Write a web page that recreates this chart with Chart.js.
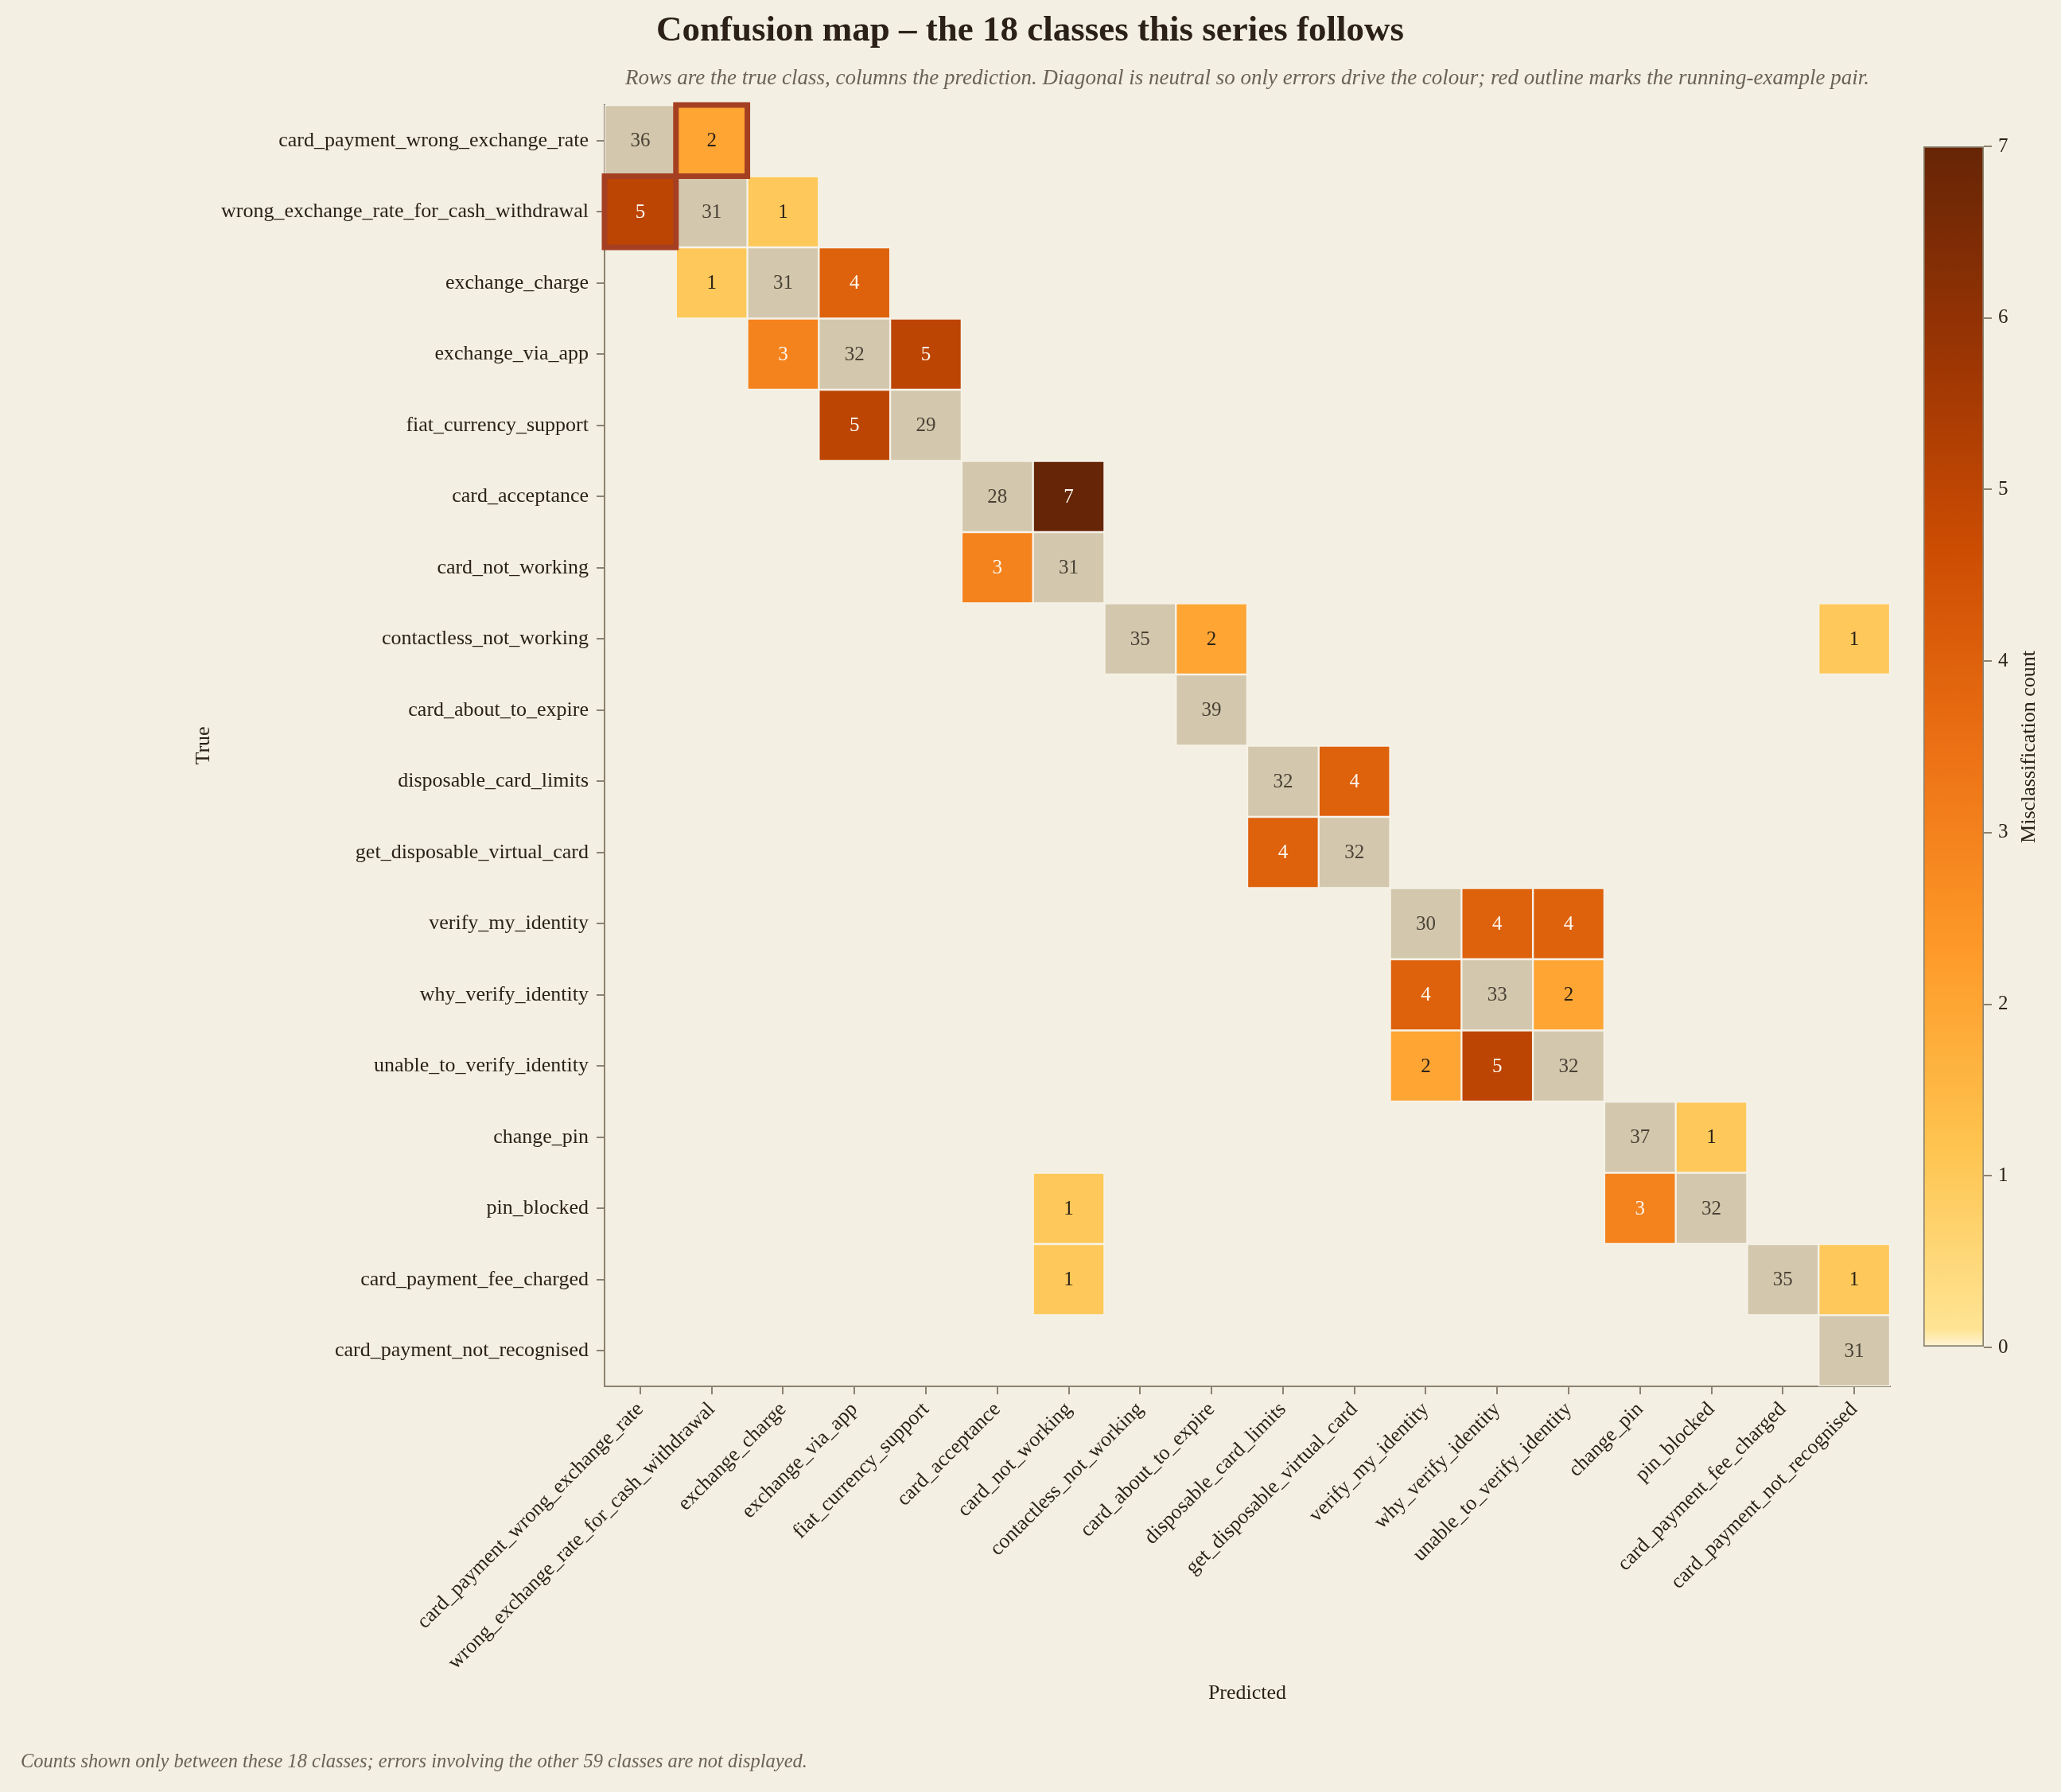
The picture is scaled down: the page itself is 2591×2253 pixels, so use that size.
<!DOCTYPE html>
<html>
<head>
<meta charset="utf-8">
<title>Confusion map</title>
<script src="https://cdn.jsdelivr.net/npm/chart.js@4.4.1/dist/chart.umd.min.js"></script>
<style>
  html, body { margin: 0; padding: 0; background: #f3efe3; }
  #wrap { position: relative; width: 2591px; height: 2253px; overflow: hidden;
          font-family: "Liberation Serif", "DejaVu Serif", serif; }
  #main { position: absolute; left: 0; top: 0; }
  #cbar { position: absolute; left: 2400px; top: 150px; }
  .txt { position: absolute; white-space: nowrap; transform: translate(-50%, -50%); }
  #title { left: 1295px; top: 36px; font-size: 45px; font-weight: bold; color: #2b2118; }
  #subtitle { left: 1568px; top: 97px; font-size: 27px; font-style: italic; color: #6b6255; }
  #footnote { left: 26px; top: 2214px; font-size: 24.5px; font-style: italic; color: #6b6255; transform: translate(0, -50%); }
</style>
</head>
<body>
<div id="wrap">
  <canvas id="main" width="2591" height="2253"></canvas>
  <canvas id="cbar" width="191" height="1600"></canvas>
  <div class="txt" id="title">Confusion map – the 18 classes this series follows</div>
  <div class="txt" id="subtitle">Rows are the true class, columns the prediction. Diagonal is neutral so only errors drive the colour; red outline marks the running-example pair.</div>
  <div class="txt" id="footnote">Counts shown only between these 18 classes; errors involving the other 59 classes are not displayed.</div>
</div>
<script>
// ── data ──────────────────────────────────────────────────────
const classes = [
    'card_payment_wrong_exchange_rate', 'wrong_exchange_rate_for_cash_withdrawal',
    'exchange_charge', 'exchange_via_app', 'fiat_currency_support',
    'card_acceptance', 'card_not_working', 'contactless_not_working',
    'card_about_to_expire', 'disposable_card_limits', 'get_disposable_virtual_card',
    'verify_my_identity', 'why_verify_identity', 'unable_to_verify_identity',
    'change_pin', 'pin_blocked', 'card_payment_fee_charged', 'card_payment_not_recognised'
];

// rows = true class, columns = predicted class
const counts = [
    [36, 2, 0, 0, 0, 0, 0, 0, 0, 0, 0, 0, 0, 0, 0, 0, 0, 0],
    [5, 31, 1, 0, 0, 0, 0, 0, 0, 0, 0, 0, 0, 0, 0, 0, 0, 0],
    [0, 1, 31, 4, 0, 0, 0, 0, 0, 0, 0, 0, 0, 0, 0, 0, 0, 0],
    [0, 0, 3, 32, 5, 0, 0, 0, 0, 0, 0, 0, 0, 0, 0, 0, 0, 0],
    [0, 0, 0, 5, 29, 0, 0, 0, 0, 0, 0, 0, 0, 0, 0, 0, 0, 0],
    [0, 0, 0, 0, 0, 28, 7, 0, 0, 0, 0, 0, 0, 0, 0, 0, 0, 0],
    [0, 0, 0, 0, 0, 3, 31, 0, 0, 0, 0, 0, 0, 0, 0, 0, 0, 0],
    [0, 0, 0, 0, 0, 0, 0, 35, 2, 0, 0, 0, 0, 0, 0, 0, 0, 1],
    [0, 0, 0, 0, 0, 0, 0, 0, 39, 0, 0, 0, 0, 0, 0, 0, 0, 0],
    [0, 0, 0, 0, 0, 0, 0, 0, 0, 32, 4, 0, 0, 0, 0, 0, 0, 0],
    [0, 0, 0, 0, 0, 0, 0, 0, 0, 4, 32, 0, 0, 0, 0, 0, 0, 0],
    [0, 0, 0, 0, 0, 0, 0, 0, 0, 0, 0, 30, 4, 4, 0, 0, 0, 0],
    [0, 0, 0, 0, 0, 0, 0, 0, 0, 0, 0, 4, 33, 2, 0, 0, 0, 0],
    [0, 0, 0, 0, 0, 0, 0, 0, 0, 0, 0, 2, 5, 32, 0, 0, 0, 0],
    [0, 0, 0, 0, 0, 0, 0, 0, 0, 0, 0, 0, 0, 0, 37, 1, 0, 0],
    [0, 0, 0, 0, 0, 0, 1, 0, 0, 0, 0, 0, 0, 0, 3, 32, 0, 0],
    [0, 0, 0, 0, 0, 0, 1, 0, 0, 0, 0, 0, 0, 0, 0, 0, 35, 1],
    [0, 0, 0, 0, 0, 0, 0, 0, 0, 0, 0, 0, 0, 0, 0, 0, 0, 31]
];

// running-example pair [row, col]
const highlighted = [[0, 1], [1, 0]];

const colorTicks = [0, 1, 2, 3, 4, 5, 6, 7];

// ── styling ───────────────────────────────────────────────────
const FONT = '"Liberation Serif", "DejaVu Serif", serif';
const INK = '#2b2118';
const SPINE = '#8c8270';
const DIAG = '#d3c8ad';
const VMAX = 7;
// YlOrBr, upper three quarters
const cmapStops = [
    [0, '#fff5da'], [0.015, '#fee493'], [1 / 6, '#fec44f'], [2 / 6, '#fe9929'],
    [3 / 6, '#ec7014'], [4 / 6, '#cc4c02'], [5 / 6, '#993404'], [1, '#662506']
];

function hexToRgb(h) {
    return [parseInt(h.slice(1, 3), 16), parseInt(h.slice(3, 5), 16), parseInt(h.slice(5, 7), 16)];
}

function cmap(v) {
    const t = Math.max(0, Math.min(1, v / VMAX));
    for (let i = 1; i < cmapStops.length; i++) {
        const [t1, c1] = cmapStops[i];
        if (t <= t1) {
            const [t0, c0] = cmapStops[i - 1];
            const f = (t - t0) / (t1 - t0);
            const a = hexToRgb(c0), b = hexToRgb(c1);
            return 'rgb(' + a.map((x, k) => Math.round(x + (b[k] - x) * f)).join(',') + ')';
        }
    }
    return cmapStops[cmapStops.length - 1][1];
}

// one bar per non-empty cell, spanning its row on the value axis
const cells = [];
counts.forEach((row, r) => row.forEach((v, c) => {
    if (v > 0) cells.push({ x: classes[c], y: [r - 0.5, r + 0.5], v: v, r: r, c: c });
}));

// ── plugins ───────────────────────────────────────────────────
const cellLabels = {
    id: 'cellLabels',
    afterDatasetsDraw(chart) {
        const ctx = chart.ctx;
        const meta = chart.getDatasetMeta(0);
        ctx.save();
        ctx.font = '25px ' + FONT;
        ctx.textAlign = 'center';
        ctx.textBaseline = 'middle';
        meta.data.forEach((el, i) => {
            const cell = cells[i];
            if (cell.r === cell.c) ctx.fillStyle = '#4a4236';
            else ctx.fillStyle = cell.v >= 3 ? '#fdf6ec' : INK;
            ctx.fillText(String(cell.v), el.x, (el.y + el.base) / 2 + 1);
        });
        // red outline for the running-example pair
        ctx.strokeStyle = '#a53f22';
        ctx.lineWidth = 7;
        meta.data.forEach((el, i) => {
            const cell = cells[i];
            if (!highlighted.some(h => h[0] === cell.r && h[1] === cell.c)) return;
            const top = Math.min(el.y, el.base);
            const h = Math.abs(el.y - el.base);
            ctx.strokeRect(el.x - el.width / 2, top, el.width, h);
        });
        ctx.restore();
    }
};

// ── main heatmap ──────────────────────────────────────────────
new Chart(document.getElementById('main'), {
    type: 'bar',
    data: {
        labels: classes,
        datasets: [{
            data: cells,
            backgroundColor: (c) => {
                const cell = c.raw;
                if (!cell) return DIAG;
                return cell.r === cell.c ? DIAG : cmap(cell.v);
            },
            borderColor: '#f7f3ea',
            borderWidth: 1.5,
            borderSkipped: false,
            barPercentage: 1,
            categoryPercentage: 1
        }]
    },
    options: {
        responsive: false,
        devicePixelRatio: 1,
        animation: false,
        layout: { padding: { top: 132, right: 215, left: 0, bottom: 0 } },
        plugins: { legend: { display: false }, tooltip: { enabled: false } },
        scales: {
            x: {
                type: 'category',
                offset: true,
                grid: { display: true, drawOnChartArea: false, drawTicks: true, tickLength: 10, offset: false, color: SPINE, lineWidth: 2 },
                border: { display: true, color: SPINE, width: 2 },
                ticks: { autoSkip: false, maxRotation: 45, minRotation: 45, color: INK, font: { family: FONT, size: 26 }, padding: 4 },
                title: { display: true, text: 'Predicted', color: INK, font: { family: FONT, size: 26 }, padding: { top: 0, bottom: 108 } },
                afterFit: (s) => { s.height = 510; }
            },
            y: {
                type: 'linear',
                reverse: true,
                min: -0.5,
                max: classes.length - 0.5,
                afterBuildTicks: (s) => { s.ticks = classes.map((_, i) => ({ value: i })); },
                grid: { display: true, drawOnChartArea: false, drawTicks: true, tickLength: 10, color: SPINE, lineWidth: 2 },
                border: { display: true, color: SPINE, width: 2 },
                ticks: { autoSkip: false, color: INK, font: { family: FONT, size: 26 }, padding: 10,
                         callback: (v) => classes[v] },
                title: { display: true, text: 'True', color: INK, font: { family: FONT, size: 26 }, padding: { top: 241, bottom: 0 } },
                afterFit: (s) => { s.width = 760; }
            }
        }
    },
    plugins: [cellLabels]
});

// ── colour bar ────────────────────────────────────────────────
const cbarLabel = {
    id: 'cbarLabel',
    afterDraw(chart) {
        const ctx = chart.ctx;
        const area = chart.chartArea;
        ctx.save();
        ctx.translate(151, (area.top + area.bottom) / 2);
        ctx.rotate(-Math.PI / 2);
        ctx.font = '26px ' + FONT;
        ctx.fillStyle = INK;
        ctx.textAlign = 'center';
        ctx.textBaseline = 'middle';
        ctx.fillText('Misclassification count', 0, 0);
        ctx.restore();
    }
};

new Chart(document.getElementById('cbar'), {
    type: 'bar',
    data: {
        labels: [''],
        datasets: [{
            data: [[colorTicks[0], colorTicks[colorTicks.length - 1]]],
            backgroundColor: (c) => {
                const area = c.chart.chartArea;
                if (!area) return cmap(1);
                const g = c.chart.ctx.createLinearGradient(0, area.bottom, 0, area.top);
                cmapStops.forEach(([t, col]) => g.addColorStop(t, col));
                return g;
            },
            borderColor: SPINE,
            borderWidth: 2,
            borderSkipped: false,
            barPercentage: 1,
            categoryPercentage: 1
        }]
    },
    options: {
        responsive: false,
        devicePixelRatio: 1,
        animation: false,
        layout: { padding: { top: 34, right: 0, left: 18, bottom: 56 } },
        plugins: { legend: { display: false }, tooltip: { enabled: false } },
        scales: {
            x: { display: false },
            y: {
                position: 'right',
                min: 0,
                max: VMAX,
                afterBuildTicks: (s) => { s.ticks = colorTicks.map(v => ({ value: v })); },
                grid: { display: true, drawOnChartArea: false, drawTicks: true, tickLength: 10, color: SPINE, lineWidth: 2 },
                border: { display: false },
                ticks: { color: INK, font: { family: FONT, size: 25 }, padding: 8 },
                afterFit: (s) => { s.width = 97; }
            }
        }
    },
    plugins: [cbarLabel]
});
</script>
</body>
</html>
